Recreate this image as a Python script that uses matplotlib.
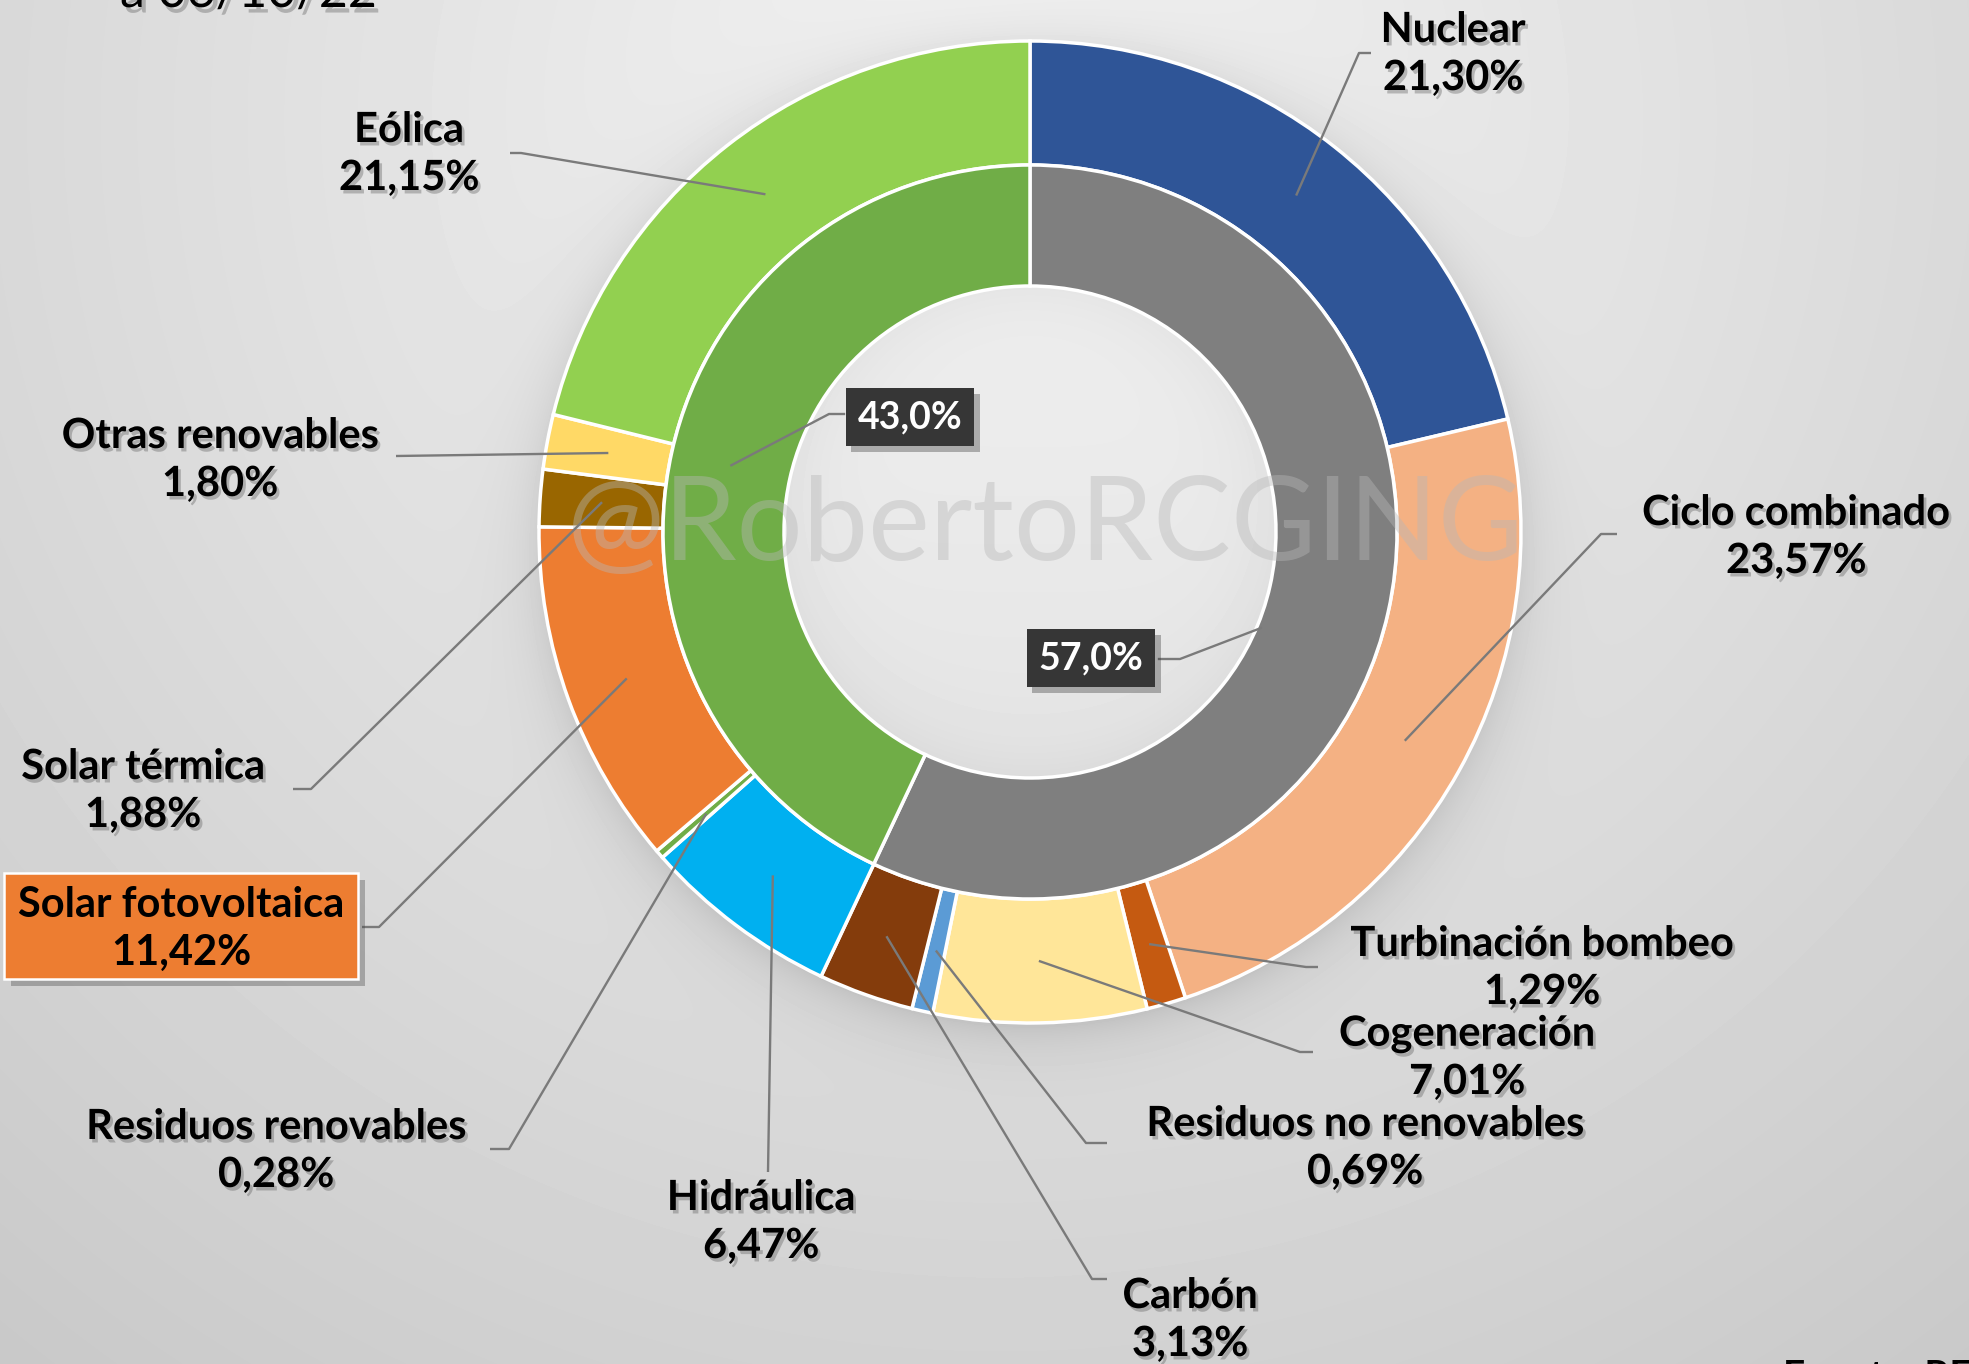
import numpy as np
import matplotlib
matplotlib.use("Agg")
import matplotlib.pyplot as plt
import matplotlib.patheffects as pe
from matplotlib.patches import Rectangle

# ---------------- data ----------------
outer_labels = ['Nuclear', 'Ciclo combinado', 'Turbinación bombeo', 'Cogeneración',
                'Residuos no renovables', 'Carbón', 'Hidráulica', 'Residuos renovables',
                'Solar fotovoltaica', 'Solar térmica', 'Otras renovables', 'Eólica']
outer_values = [21.30, 23.57, 1.29, 7.01, 0.69, 3.13, 6.47, 0.28, 11.42, 1.88, 1.80, 21.15]
outer_colors = ['#2f5597', '#f4b183', '#c55a11', '#ffe699', '#5b9bd5', '#843c0c',
                '#00b0f0', '#70ad47', '#ed7d31', '#996600', '#ffd966', '#92d050']
inner_labels = ['No renovable', 'Renovable']
inner_values = [57.0, 43.0]
inner_colors = ['#7f7f7f', '#70ad47']
date_text = 'a 06/10/22'
source_text = 'Fuente: REE'
watermark = '@RobertoRCGING'

# ---------------- layout (pixels, top-down) ----------------
W, H = 1969, 1364
CX, CY = 1030, 532
R_OUT, R_MID, R_IN = 491, 367, 246

def Y(y):
    return H - y

# text block centre and leader line elbow points
outer_layout = {
    'Nuclear': dict(xy=(1453, 54), pts=[(1359, 53), (1371, 53)]),
    'Ciclo combinado': dict(xy=(1796, 537), pts=[(1601, 534), (1617, 534)]),
    'Turbinación bombeo': dict(xy=(1542, 968), pts=[(1306, 967), (1318, 967)]),
    'Cogeneración': dict(xy=(1467, 1058), pts=[(1300, 1052), (1313, 1052)]),
    'Residuos no renovables': dict(xy=(1365, 1148), pts=[(1086, 1143), (1107, 1143)]),
    'Carbón': dict(xy=(1190, 1320), pts=[(1092, 1279), (1107, 1279)]),
    'Hidráulica': dict(xy=(761, 1222), pts=[(768, 1172)]),
    'Residuos renovables': dict(xy=(276, 1151), pts=[(509, 1149), (490, 1149)]),
    'Solar fotovoltaica': dict(xy=(181, 929), pts=[(379, 927), (362, 927)]),
    'Solar térmica': dict(xy=(143, 791), pts=[(311, 789), (293, 789)]),
    'Otras renovables': dict(xy=(220, 460), pts=[(396, 456)]),
    'Eólica': dict(xy=(409, 154), pts=[(521, 153), (510, 153)]),
}
inner_layout = {
    'No renovable': dict(xy=(1091, 658), pts=[(1180, 659), (1159, 659)], r=250, dang=10),
    'Renovable': dict(xy=(910, 417), pts=[(829, 414), (844, 414)], r=306, dang=0),
}

FONT = ['Lato', 'DejaVu Sans']
plt.rcParams['font.family'] = FONT

# ---------------- background ----------------
yy, xx = np.mgrid[0:H, 0:W].astype(float)
r = np.hypot(xx - 1000, yy - 120)
bg = 0.955 - 0.17 * np.clip(r / 1600, 0, 1.2)
d = np.hypot(xx - CX, yy - (CY + 8))
shadow = np.where(d > R_OUT - 10, np.exp(-(d - (R_OUT - 10)) / 28.0), 0.0)
bg = bg * (1 - 0.13 * shadow)
d0 = np.hypot(xx - CX, yy - CY)
hole = 0.915 - 0.035 * (d0 / R_IN) ** 6 - 0.02 * ((yy - CY) / R_IN)
bg = np.where(d0 < R_IN, hole, bg)
bg = np.clip(bg, 0, 1)

fig = plt.figure(figsize=(W / 100, H / 100), dpi=100)
ax = fig.add_axes([0, 0, 1, 1])
ax.imshow(bg, cmap='gray', vmin=0, vmax=1, extent=(0, W, 0, H), origin='upper',
          zorder=0, interpolation='bilinear')

# ---------------- pies ----------------
ax.pie(outer_values, colors=outer_colors, radius=R_OUT, center=(CX, Y(CY)),
       startangle=90, counterclock=False,
       wedgeprops=dict(width=R_OUT - R_MID, edgecolor='white', linewidth=2.5))
ax.pie(inner_values, colors=inner_colors, radius=R_MID, center=(CX, Y(CY)),
       startangle=90, counterclock=False,
       wedgeprops=dict(width=R_MID - R_IN, edgecolor='white', linewidth=2.5))
ax.set_xlim(0, W)
ax.set_ylim(0, H)
ax.set_aspect('auto')
ax.axis('off')

# watermark
ax.text(1045, Y(527), watermark, ha='center', va='center', fontsize=84,
        fontweight='normal', color='#b8b8b8', alpha=0.42, zorder=3, family=FONT)

shadow_fx = [pe.withSimplePatchShadow(offset=(2, -2.5), shadow_rgbFace='#555555', alpha=0.35)]

def fmt(v, nd):
    return (f"{v:.{nd}f}%").replace('.', ',')

def mid_angles(vals):
    vals = np.asarray(vals, float)
    cum = np.cumsum(vals) - vals / 2
    return cum / vals.sum() * 360.0

LINE_C = '#7a7a7a'

# outer labels
ang_out = mid_angles(outer_values)
r_anchor = (R_OUT + R_MID) / 2
for name, val, ang in zip(outer_labels, outer_values, ang_out):
    lay = outer_layout[name]
    a = np.deg2rad(ang)
    ax_, ay_ = CX + r_anchor * np.sin(a), CY - r_anchor * np.cos(a)
    px = [ax_] + [p[0] for p in lay['pts']]
    py = [ay_] + [p[1] for p in lay['pts']]
    ax.plot(px, [Y(v) for v in py], color=LINE_C, lw=1.7, zorder=4,
            solid_capstyle='butt')
    x, yc = lay['xy']
    if name == 'Solar fotovoltaica':
        rect = Rectangle((4, Y(979)), 354, 106, facecolor='#ed7d31', edgecolor='white',
                         linewidth=1.8, zorder=5)
        rect.set_path_effects([pe.withSimplePatchShadow(offset=(5, -5), shadow_rgbFace='#444444', alpha=0.35)])
        ax.add_patch(rect)
        fx = None
    else:
        fx = shadow_fx
    t1 = ax.text(x, Y(yc - 24), name, ha='center', va='center', fontsize=30,
                 fontweight='bold', color='black', zorder=6, family=FONT)
    t2 = ax.text(x, Y(yc + 24), fmt(val, 2), ha='center', va='center', fontsize=30,
                 fontweight='bold', color='black', zorder=6, family=FONT)
    if fx:
        t1.set_path_effects(fx)
        t2.set_path_effects(fx)

# inner labels
ang_in = mid_angles(inner_values)
for name, val, ang in zip(inner_labels, inner_values, ang_in):
    lay = inner_layout[name]
    a = np.deg2rad(ang + lay['dang'])
    ax_, ay_ = CX + lay['r'] * np.sin(a), CY - lay['r'] * np.cos(a)
    px = [ax_] + [p[0] for p in lay['pts']]
    py = [ay_] + [p[1] for p in lay['pts']]
    ax.plot(px, [Y(v) for v in py], color=LINE_C, lw=1.7, zorder=4)
    x, yc = lay['xy']
    t = ax.text(x, Y(yc), fmt(val, 1), ha='center', va='center', fontsize=27,
                fontweight='bold', color='white', zorder=6, family=FONT,
                bbox=dict(boxstyle='square,pad=0.32', facecolor='#363636', edgecolor='none'))
    t.get_bbox_patch().set_path_effects(
        [pe.withSimplePatchShadow(offset=(4, -4), shadow_rgbFace='#333333', alpha=0.35)])

# cut-off title and source (as in the reference, they sit at the picture edges)
ax.text(120, Y(7), date_text, ha='left', va='baseline', fontsize=36, color='black',
        zorder=6, family=FONT,
        path_effects=[pe.withSimplePatchShadow(offset=(3, -4), shadow_rgbFace='#666666', alpha=0.4)])
ax.text(1783, Y(1359), source_text, ha='left', va='top', fontsize=28, color='black',
        fontweight='bold', zorder=6, family=FONT)

fig.savefig('out.png', dpi=100)
